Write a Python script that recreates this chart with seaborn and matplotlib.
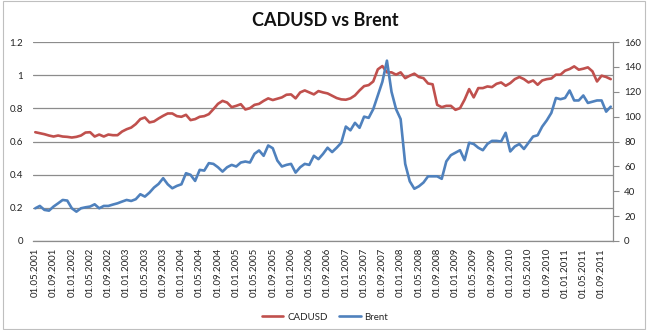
import matplotlib
matplotlib.use("Agg")
import matplotlib.pyplot as plt
import seaborn as sns
import pandas as pd
import numpy as np

# ---------------- data ----------------
START_MONTH = "2001-05-01"

cadusd = [
    0.656, 0.650, 0.644, 0.636, 0.630, 0.636, 0.630, 0.628, 0.624, 0.628,
    0.636, 0.654, 0.656, 0.630, 0.642, 0.630, 0.642, 0.638, 0.638, 0.660,
    0.674, 0.684, 0.705, 0.735, 0.745, 0.715, 0.721, 0.739, 0.755, 0.769,
    0.769, 0.753, 0.749, 0.761, 0.729, 0.735, 0.749, 0.753, 0.765, 0.795,
    0.827, 0.845, 0.835, 0.807, 0.815, 0.825, 0.793, 0.801, 0.821, 0.827,
    0.845, 0.860, 0.850, 0.858, 0.866, 0.882, 0.884, 0.860, 0.896, 0.908,
    0.896, 0.884, 0.904, 0.896, 0.890, 0.876, 0.862, 0.854, 0.852, 0.860,
    0.878, 0.908, 0.934, 0.940, 0.962, 1.035, 1.055, 1.017, 1.017, 1.003,
    1.017, 0.982, 0.997, 1.009, 0.989, 0.982, 0.950, 0.945, 0.821, 0.807,
    0.815, 0.815, 0.791, 0.801, 0.852, 0.916, 0.866, 0.922, 0.922, 0.932,
    0.928, 0.948, 0.956, 0.936, 0.952, 0.976, 0.989, 0.976, 0.956, 0.968,
    0.942, 0.968, 0.976, 0.980, 1.003, 1.003, 1.027, 1.037, 1.053, 1.033,
    1.039, 1.047, 1.023, 0.962, 0.997, 0.989, 0.976,
]

brent = [
    26.3, 28.2, 25.0, 24.4, 27.7, 30.3, 33.0, 32.5, 26.3, 23.6,
    26.3, 27.1, 27.7, 29.5, 26.3, 28.2, 28.2, 29.3, 30.3, 31.7,
    33.0, 32.2, 33.6, 37.6, 35.7, 38.9, 43.0, 45.9, 50.5, 45.6,
    42.4, 44.3, 45.6, 54.5, 53.2, 48.3, 57.2, 56.6, 62.6, 62.0,
    59.3, 55.8, 59.3, 61.2, 59.9, 63.1, 63.9, 63.1, 70.1, 72.8,
    68.5, 76.8, 74.6, 64.7, 59.9, 61.2, 62.0, 55.0, 59.3, 62.0,
    61.2, 68.5, 65.8, 70.0, 75.0, 71.5, 75.0, 79.0, 92.0, 89.0,
    95.0, 91.0, 100.0, 99.0, 106.0, 117.0, 128.0, 145.0, 120.0, 106.0,
    98.0, 62.0, 48.0, 42.0, 44.0, 47.0, 52.0, 52.0, 52.0, 50.0,
    64.0, 69.0, 71.0, 73.0, 65.0, 79.0, 78.0, 75.0, 73.0, 78.0,
    80.5, 80.5, 80.0, 87.0, 72.0, 76.0, 78.0, 74.0, 79.0, 84.0,
    85.0, 92.0, 97.0, 103.0, 115.0, 114.0, 115.0, 121.0, 113.0, 113.0,
    117.0, 111.0, 112.0, 113.0, 113.0, 104.0, 108.0,
]

left_ticks = [0, 0.2, 0.4, 0.6, 0.8, 1, 1.2]
left_tick_labels = ["0", "0.2", "0.4", "0.6", "0.8", "1", "1.2"]
right_ticks = [0, 20, 40, 60, 80, 100, 120, 140, 160]

months = pd.date_range(START_MONTH, periods=len(cadusd), freq="MS")
month_labels = [d.strftime("%d.%m.%Y") for d in months]
df = pd.DataFrame({"idx": np.arange(len(cadusd)), "CADUSD": cadusd, "Brent": brent})

RED = "#C0504D"
BLUE = "#4F81BD"
GRID = "#8C8C8C"

# ---------------- figure ----------------
sns.set_theme(style="white")
plt.rcParams["font.family"] = ["Lato", "DejaVu Sans"]

fig = plt.figure(figsize=(6.5, 3.3), dpi=100)
ax = fig.add_axes([33 / 650, 1 - 241 / 330, 580 / 650, 199 / 330])

sns.lineplot(data=df, x="idx", y="CADUSD", ax=ax, color=RED, linewidth=1.9, label="CADUSD", legend=False)
ax2 = ax.twinx()
sns.lineplot(data=df, x="idx", y="Brent", ax=ax2, color=BLUE, linewidth=1.9, label="Brent", legend=False)

ax.set_xlim(-0.5, len(cadusd) - 0.5)
ax.set_ylim(0, 1.2)
ax2.set_ylim(0, 160)

ax.set_yticks(left_ticks)
ax.set_yticklabels(left_tick_labels)
ax2.set_yticks(right_ticks)

tick_pos = list(range(0, len(cadusd), 4))
ax.set_xticks(tick_pos)
ax.set_xticklabels([month_labels[i] for i in tick_pos], rotation=90, fontsize=7, color="#222222")

ax.yaxis.grid(True, color=GRID, linewidth=0.9)
ax.xaxis.grid(False)
ax2.grid(False)
ax.set_axisbelow(True)

for a in (ax, ax2):
    a.set_xlabel("")
    a.set_ylabel("")
    for s in a.spines.values():
        s.set_visible(False)

ax.spines["bottom"].set_visible(True)
ax.spines["bottom"].set_color(GRID)
ax.spines["bottom"].set_linewidth(0.9)
ax2.spines["right"].set_visible(True)
ax2.spines["right"].set_color(GRID)
ax2.spines["right"].set_linewidth(0.9)

ax.tick_params(axis="y", labelsize=7, colors="#222222", length=0, pad=7)
ax.tick_params(axis="x", length=0, pad=5)
ax2.tick_params(axis="y", labelsize=7, colors="#222222", length=4, width=0.8,
                color=GRID, direction="out", pad=4)

fig.text(0.5, 1 - 20 / 330, "CADUSD vs Brent", ha="center", va="center",
         fontsize=13, fontweight="bold", color="#111111")

h1, l1 = ax.get_legend_handles_labels()
h2, l2 = ax2.get_legend_handles_labels()
fig.legend(h1 + h2, l1 + l2, loc="center", bbox_to_anchor=(0.5, 1 - 317 / 330),
           ncol=2, frameon=False, fontsize=7, handlelength=2.2, columnspacing=1.2,
           handletextpad=0.4)

# outer chart border
fig.patches.append(plt.Rectangle((0.004, 0.004), 0.988, 0.992, transform=fig.transFigure,
                                 fill=False, edgecolor="#BFBFBF", linewidth=0.8))

fig.savefig("out.png", dpi=100)
